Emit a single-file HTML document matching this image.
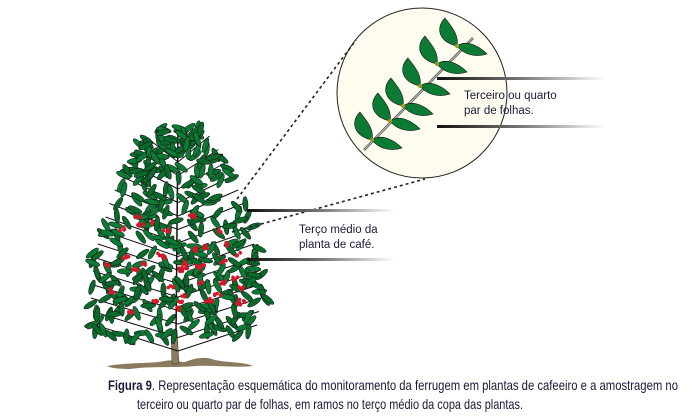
<!DOCTYPE html>
<html><head><meta charset="utf-8"><style>
html,body{margin:0;padding:0;background:#fff;}
svg{display:block}
</style></head><body>
<svg id="s" width="693" height="416" viewBox="0 0 693 416" xmlns="http://www.w3.org/2000/svg">
<defs>
<linearGradient id="g1" x1="0" x2="1" y1="0" y2="0">
<stop offset="0" stop-color="#111"/><stop offset="0.5" stop-color="#777"/><stop offset="1" stop-color="#fff"/>
</linearGradient>
</defs>
<path d="M107,366 C130,362 150,364 165,361 C172,359 178,362 185,362 C195,358 205,356 215,360 C230,363 245,362 253,366 C235,368 215,365 195,366 C175,368 150,366 130,369 C120,369 110,368 107,366Z" fill="#8a7a5e"/>
<path d="M171,330 L177,330 L179,364 L172,364Z" fill="#8a7a5e" stroke="#333" stroke-width="0.5"/>
<g id="tree"></g>
<circle cx="422" cy="93" r="85" fill="#fdfcee" stroke="#222" stroke-width="1"/>
<g id="branch"></g>
<line x1="237" y1="199" x2="356" y2="40" stroke="#222" stroke-width="1.6" stroke-dasharray="3,3"/>
<line x1="232" y1="232" x2="425" y2="179" stroke="#222" stroke-width="1.6" stroke-dasharray="3,3"/>
<rect x="437" y="77" width="168" height="3" fill="url(#g1)"/>
<rect x="437" y="125" width="168" height="3" fill="url(#g1)"/>
<rect x="247" y="209" width="148" height="3" fill="url(#g1)"/>
<rect x="247" y="258" width="148" height="3" fill="url(#g1)"/>
<g font-family="Liberation Sans, sans-serif" font-size="11.5" fill="#1a1a3a">
<text x="464" y="99">Terceiro ou quarto</text>
<text x="464" y="114">par de folhas.</text>
<text x="299" y="233">Terço médio da</text>
<text x="299" y="248">planta de café.</text>
</g>
<g font-family="Liberation Sans, sans-serif" font-size="14" fill="#1a1a3a">
<text x="108" y="390" textLength="570" lengthAdjust="spacingAndGlyphs"><tspan font-weight="bold">Figura 9</tspan>. Representação esquemática do monitoramento da ferrugem em plantas de cafeeiro e a amostragem no</text>
<text x="137" y="409" textLength="386" lengthAdjust="spacingAndGlyphs">terceiro ou quarto par de folhas, em ramos no terço médio da copa das plantas.</text>
</g>
</svg>
<script>
var NS="http://www.w3.org/2000/svg";
var seed=7;function r(){seed=(seed*16807)%2147483647;return seed/2147483647;}
var t=document.getElementById('tree');
function el(n,a,p){var e=document.createElementNS(NS,n);for(var k in a)e.setAttribute(k,a[k]);(p||t).appendChild(e);return e;}
var P=[[127,22],[145,40],[200,70],[260,88],[300,92],[340,86]];
function hw(y){for(var i=0;i<P.length-1;i++){if(y<=P[i+1][0]){var f=(y-P[i][0])/(P[i+1][0]-P[i][0]);return P[i][1]+f*(P[i+1][1]-P[i][1]);}}return 86;}
for(var i=0;i<15;i++){var y=140+i*13.5;var w=hw(y)*0.95;
el('line',{x1:178,y1:y+22,x2:178-w,y2:y-4,stroke:'#111','stroke-width':1});
el('line',{x1:178,y1:y+22,x2:178+w*0.95,y2:y-4,stroke:'#111','stroke-width':1});}
el('line',{x1:176,y1:335,x2:178,y2:128,stroke:'#111','stroke-width':1.5});
for(var i=0;i<380;i++){var y=128+r()*212;var w=hw(y);var x=178+(r()*2-1)*w;
var a=r()*360;el('ellipse',{cx:x,cy:y,rx:7.5,ry:2.6,fill:r()<0.5?'#0b7a34':'#0a6a2c',stroke:'#111','stroke-width':0.5,transform:'rotate('+a+' '+x+' '+y+')'});}
for(var i=0;i<40;i++){var y=215+r()*105;var w=hw(y)*0.85;var x=178+(r()*2-1)*w;
for(var j=0;j<4;j++)el('circle',{cx:x+r()*6-3,cy:y+r()*4-2,r:1.8,fill:'#d4172a'});}
var b=document.getElementById('branch');
el('line',{x1:364,y1:150,x2:473,y2:38,stroke:'#444','stroke-width':2.5},b);
el('line',{x1:364,y1:150,x2:473,y2:38,stroke:'#bbb','stroke-width':1.2},b);
var nodes=[[372,140],[390,121],[403,106],[420,86],[437,64],[457,46]];
nodes.forEach(function(n,i){
 el('path',{d:'M'+n[0]+','+n[1]+' C'+(n[0]-18)+','+(n[1]-4)+' '+(n[0]-22)+','+(n[1]-18)+' '+(n[0]-12)+','+(n[1]-28)+' C'+(n[0]-4)+','+(n[1]-18)+' '+(n[0]+2)+','+(n[1]-10)+' '+n[0]+','+n[1]+'Z',fill:'#0b7a34',stroke:'#111','stroke-width':0.6},b);
 el('path',{d:'M'+n[0]+','+n[1]+' C'+(n[0]+8)+','+(n[1]-6)+' '+(n[0]+20)+','+(n[1]-2)+' '+(n[0]+30)+','+(n[1]+8)+' C'+(n[0]+18)+','+(n[1]+12)+' '+(n[0]+6)+','+(n[1]+8)+' '+n[0]+','+n[1]+'Z',fill:'#0b7a34',stroke:'#111','stroke-width':0.6},b);
 el('circle',{cx:n[0],cy:n[1],r:2,fill:'#9a9a20'},b);
});
</script>
</body></html>
